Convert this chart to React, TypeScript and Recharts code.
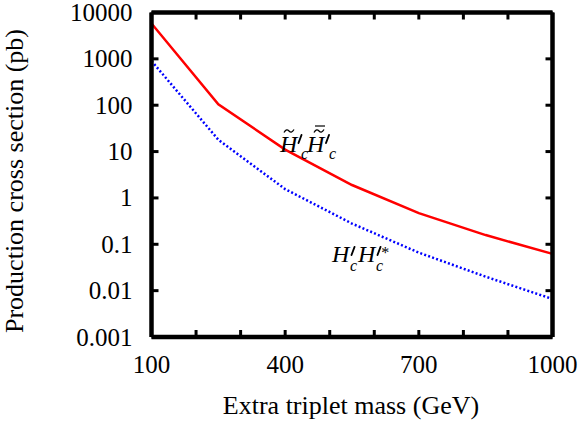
import React from 'react';
import { LineChart, Line, XAxis, YAxis } from 'recharts';

// Extra triplet mass (GeV)
const masses = [100, 250, 400, 550, 700, 850, 1000];
// H~'c H~bar'c production cross section (pb) - red solid
const tildePairXsec = [5800, 105, 11, 1.9, 0.47, 0.158, 0.062];
// H'c H'*c production cross section (pb) - blue dotted
const plainPairXsec = [900, 18, 1.55, 0.28, 0.066, 0.02, 0.0066];

const xTicks = [100, 200, 300, 400, 500, 600, 700, 800, 900, 1000];
const xTickLabels = [100, 400, 700, 1000];
const yTicks = [0.001, 0.01, 0.1, 1, 10, 100, 1000, 10000];
const yTickLabels = ['0.001', '0.01', '0.1', '1', '10', '100', '1000', '10000'];

const data = masses.map((m, i) => ({ mass: m, tilde: tildePairXsec[i], plain: plainPairXsec[i] }));

const FONT = '"Liberation Serif", "Times New Roman", Times, serif';
const TICK_LEN = 7;
const TICK_W = 3;
const TICK_FS = 25;

const BottomTick = (props: any) => {
  const { x, y, payload } = props;
  const v = payload.value;
  return (
    <g>
      <line x1={x} x2={x} y1={y} y2={y - TICK_LEN} stroke="#000" strokeWidth={TICK_W} />
      {xTickLabels.includes(v) && (
        <text x={x} y={y + 27} textAnchor="middle" dominantBaseline="central" fontFamily={FONT} fontSize={TICK_FS} fill="#000">
          {v}
        </text>
      )}
    </g>
  );
};

const TopTick = (props: any) => {
  const { x, y } = props;
  return <line x1={x} x2={x} y1={y} y2={y + TICK_LEN} stroke="#000" strokeWidth={TICK_W} />;
};

const LeftTick = (props: any) => {
  const { x, y, payload, index } = props;
  const i = yTicks.indexOf(payload.value);
  return (
    <g>
      <line x1={x} x2={x + TICK_LEN} y1={y} y2={y} stroke="#000" strokeWidth={TICK_W} />
      <text x={x - 19} y={y} textAnchor="end" dominantBaseline="central" fontFamily={FONT} fontSize={TICK_FS} fill="#000">
        {yTickLabels[i >= 0 ? i : index]}
      </text>
    </g>
  );
};

const RightTick = (props: any) => {
  const { x, y } = props;
  return <line x1={x} x2={x - TICK_LEN} y1={y} y2={y} stroke="#000" strokeWidth={TICK_W} />;
};

const MFS = 24;
const SFS = 16;

const Tilde = ({ x, y }: { x: number; y: number }) => (
  <path
    d={`M${x} ${y + 1.5} C${x + 2} ${y - 1.8} ${x + 3.5} ${y - 1.5} ${x + 5} ${y} S${x + 8} ${y + 1.8} ${x + 10} ${y - 1.5}`}
    fill="none"
    stroke="#000"
    strokeWidth={1.3}
  />
);

const Prime = ({ x, y }: { x: number; y: number }) => (
  <path d={`M${x + 3} ${y} L${x} ${y + 8}`} stroke="#000" strokeWidth={1.9} strokeLinecap="round" fill="none" />
);

export default function App() {
  return (
    <div style={{ position: 'absolute', left: 0, top: 0, width: 584, height: 421, background: '#fff' }}>
      <LineChart width={584} height={421} data={data} margin={{ top: 0, right: 0, bottom: 0, left: 0 }}>
        <XAxis
          dataKey="mass"
          type="number"
          domain={[100, 1000]}
          ticks={xTicks}
          interval={0}
          height={84}
          tickSize={0}
          tickMargin={0}
          tickLine={false}
          axisLine={{ stroke: '#000', strokeWidth: 4.5 }}
          tick={<BottomTick />}
          allowDataOverflow
        />
        <XAxis
          xAxisId="top"
          orientation="top"
          dataKey="mass"
          type="number"
          domain={[100, 1000]}
          ticks={xTicks}
          interval={0}
          height={12.5}
          tickSize={0}
          tickMargin={0}
          tickLine={false}
          axisLine={{ stroke: '#000', strokeWidth: 4.5 }}
          tick={<TopTick />}
          allowDataOverflow
        />
        <YAxis
          type="number"
          scale="log"
          domain={[0.001, 10000]}
          ticks={yTicks}
          interval={0}
          width={151.5}
          tickSize={0}
          tickMargin={0}
          tickLine={false}
          axisLine={{ stroke: '#000', strokeWidth: 4.5 }}
          tick={<LeftTick />}
          allowDataOverflow
        />
        <YAxis
          yAxisId="right"
          orientation="right"
          type="number"
          scale="log"
          domain={[0.001, 10000]}
          ticks={yTicks}
          interval={0}
          width={31.5}
          tickSize={0}
          tickMargin={0}
          tickLine={false}
          axisLine={{ stroke: '#000', strokeWidth: 4.5 }}
          tick={<RightTick />}
          allowDataOverflow
        />
        <Line
          type="linear"
          dataKey="tilde"
          stroke="#ff0000"
          strokeWidth={2.5}
          dot={false}
          activeDot={false}
          isAnimationActive={false}
        />
        <Line
          type="linear"
          dataKey="plain"
          stroke="#0000ff"
          strokeWidth={2.5}
          strokeDasharray="2 2.2"
          dot={false}
          activeDot={false}
          isAnimationActive={false}
        />
      </LineChart>
      <svg width={584} height={421} style={{ position: 'absolute', left: 0, top: 0, pointerEvents: 'none' }}>
        <text
          x={351}
          y={405}
          textAnchor="middle"
          dominantBaseline="central"
          fontFamily={FONT}
          fontSize={26}
          fill="#000"
        >
          Extra triplet mass (GeV)
        </text>
        <text
          transform="translate(14,181) rotate(-90)"
          textAnchor="middle"
          dominantBaseline="central"
          fontFamily={FONT}
          fontSize={26}
          fill="#000"
        >
          Production cross section (pb)
        </text>
        {/* label: H~'_c H~bar'_c */}
        <g fontFamily={FONT} fill="#000">
          <text x={280} y={152} fontSize={MFS} fontStyle="italic">H</text>
          <Tilde x={284} y={131} />
          <Prime x={298.5} y={135} />
          <text x={301} y={159} fontSize={SFS} fontStyle="italic">c</text>
          <text x={307} y={152} fontSize={MFS} fontStyle="italic">H</text>
          <Tilde x={314} y={131} />
          <line x1={315} x2={325} y1={126} y2={126} stroke="#000" strokeWidth={1.2} />
          <Prime x={326} y={135} />
          <text x={329} y={159} fontSize={SFS} fontStyle="italic">c</text>
        </g>
        {/* label: H'_c H'*_c */}
        <g fontFamily={FONT} fill="#000">
          <text x={332} y={262} fontSize={MFS} fontStyle="italic">H</text>
          <Prime x={351.5} y={247} />
          <text x={350} y={271} fontSize={SFS} fontStyle="italic">c</text>
          <text x={358} y={262} fontSize={MFS} fontStyle="italic">H</text>
          <Prime x={377.5} y={247} />
          <text x={380.5} y={258} fontSize={SFS} fontStyle="italic">*</text>
          <text x={376} y={271} fontSize={SFS} fontStyle="italic">c</text>
        </g>
      </svg>
    </div>
  );
}
